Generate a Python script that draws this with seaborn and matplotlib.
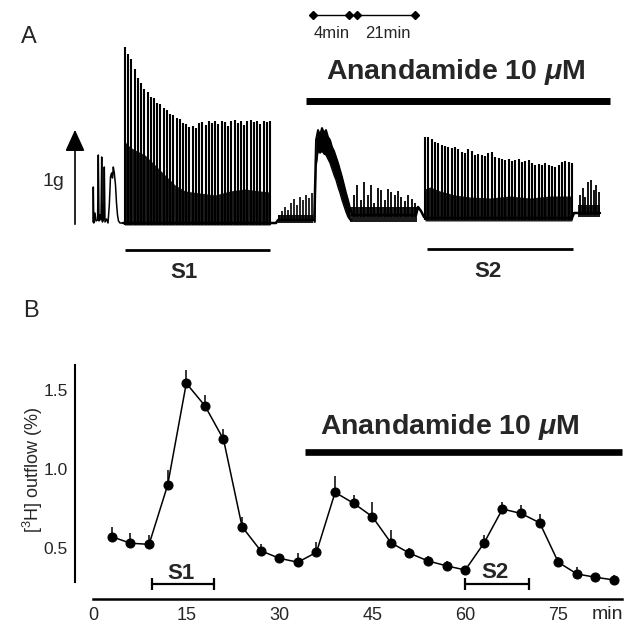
import numpy as np
import matplotlib
matplotlib.use("Agg")
import matplotlib.pyplot as plt
import seaborn as sns

sns.set_theme(style="white")
plt.rcParams["font.family"] = ["Liberation Sans", "DejaVu Sans"]
plt.rcParams["mathtext.fontset"] = "custom"
plt.rcParams["mathtext.rm"] = "Liberation Sans"
plt.rcParams["mathtext.it"] = "Liberation Sans:italic:bold"
plt.rcParams["mathtext.bf"] = "Liberation Sans:bold"

# ---------------- panel A : tension recording (chart position, grams) ----------------
pre_x = [93.0, 93.3, 93.8, 95.0, 96.0, 97.6, 98.3, 99.0, 100.0, 101.0, 101.7, 102.4, 103.6, 104.3, 105.0,
         106.5, 108.0, 109.3, 110.5, 111.5, 112.5, 113.3, 114.3, 115.5, 116.5, 117.5, 118.5, 120.0, 123.0]
pre_g = [0.03, 0.38, 0.02, 0.12, 0.04, 0.05, 0.70, 0.04, 0.10, 0.05, 0.68, 0.03, 0.06, 0.58, 0.03,
         0.06, 0.02, 0.20, 0.48, 0.52, 0.47, 0.58, 0.52, 0.40, 0.22, 0.10, 0.04, 0.02, 0.02]

s1_peaks = [1.78, 1.71, 1.66, 1.56, 1.47, 1.42, 1.36, 1.33, 1.28, 1.27, 1.22, 1.21, 1.17, 1.15, 1.11, 1.10,
            1.07, 1.06, 1.02, 1.01, 0.98, 0.99, 0.97, 1.02, 1.03, 1.00, 1.04, 1.02, 1.04, 1.01, 1.04, 1.03,
            0.99, 1.04, 1.05, 1.02, 1.04, 1.00, 1.04, 1.05, 1.03, 1.04, 1.01, 1.04, 1.03, 1.04]
s1_dense_x = [124.5, 126, 130, 135, 145, 155, 165, 175, 185, 200, 215, 230, 245, 260, 270]
s1_dense_g = [0.85, 0.82, 0.78, 0.75, 0.70, 0.60, 0.50, 0.40, 0.34, 0.32, 0.30, 0.34, 0.36, 0.34, 0.33]

pre2_peaks = [0.10, 0.14, 0.18, 0.15, 0.22, 0.26, 0.20, 0.28, 0.25, 0.30, 0.27, 0.32]

hump_x = [314, 315, 316, 318, 320, 322, 324, 326, 328, 330, 332, 334, 336, 338, 340, 342, 344, 346, 348, 350, 352]
hump_top = [0.05, 0.45, 0.85, 0.95, 0.90, 0.97, 0.92, 0.95, 0.88, 0.85, 0.78, 0.74, 0.68, 0.62, 0.55, 0.48,
            0.40, 0.32, 0.25, 0.17, 0.12]
hump_low = [0.03, 0.03, 0.58, 0.74, 0.72, 0.74, 0.71, 0.70, 0.66, 0.62, 0.56, 0.50, 0.45, 0.38, 0.32, 0.25,
            0.19, 0.13, 0.08, 0.05, 0.05]

post_peaks = [0.30, 0.40, 0.25, 0.43, 0.30, 0.40, 0.22, 0.37, 0.35, 0.25, 0.36, 0.33, 0.30, 0.34, 0.28,
              0.24, 0.30, 0.26, 0.22]

s2_peaks = [0.88, 0.88, 0.86, 0.83, 0.82, 0.80, 0.79, 0.78, 0.77, 0.78, 0.76, 0.73, 0.72, 0.76, 0.74, 0.70,
            0.71, 0.70, 0.69, 0.72, 0.73, 0.68, 0.67, 0.66, 0.65, 0.66, 0.64, 0.65, 0.66, 0.63, 0.64, 0.65,
            0.62, 0.60, 0.61, 0.60, 0.62, 0.60, 0.59, 0.58, 0.60, 0.63, 0.64, 0.63, 0.62]
s2_dense_x = [425, 430, 440, 455, 470, 490, 510, 530, 550, 572]
s2_dense_g = [0.36, 0.38, 0.34, 0.30, 0.28, 0.27, 0.29, 0.27, 0.29, 0.29]

end_peaks = [0.30, 0.37, 0.28, 0.43, 0.45, 0.35, 0.40, 0.33]

tone_x = [123, 276, 278, 314, np.nan, 352, 416, 418, 421, 424, 426, 572, 574, 600]
tone_g = [0.02, 0.02, 0.05, 0.05, np.nan, 0.10, 0.10, 0.18, 0.14, 0.08, 0.07, 0.07, 0.12, 0.12]

# ---------------- panel B : tritium outflow ----------------
times = [3, 6, 9, 12, 15, 18, 21, 24, 27, 30, 33, 36, 39, 42, 45, 48, 51, 54, 57, 60, 63, 66, 69, 72, 75, 78, 81, 84]
outflow = [0.573, 0.532, 0.525, 0.90, 1.542, 1.40, 1.188, 0.636, 0.485, 0.437, 0.412, 0.475, 0.853, 0.784,
           0.70, 0.535, 0.469, 0.42, 0.389, 0.363, 0.532, 0.748, 0.72, 0.661, 0.412, 0.338, 0.317, 0.30]
sem = [0.063, 0.063, 0.06, 0.095, 0.084, 0.067, 0.065, 0.063, 0.04, 0.03, 0.057, 0.067, 0.105, 0.053,
       0.095, 0.08, 0.036, 0.03, 0.03, 0.02, 0.053, 0.046, 0.053, 0.055, 0.036, 0.042, 0.025, 0.03]

s1_period = (9.5, 19.5)
s2_period = (60, 70.3)
drug_period = (34.1, 85.2)

fig = plt.figure(figsize=(6.4, 6.4), dpi=100)

# ---- panel A ----
ax_a = fig.add_axes([0, 0.53125, 1, 0.46875])
ax_a.set_xlim(0, 640)
ax_a.set_ylim(-0.75, 2.25)
ax_a.axis("off")
k = "black"
dark = "#1c1c1c"

ax_a.plot(pre_x, pre_g, color=k, lw=1.1)
ax_a.plot(tone_x, tone_g, color=k, lw=1.8)

s1_x = np.linspace(125, 270, len(s1_peaks))
ax_a.fill_between(s1_dense_x, 0.0, s1_dense_g, color=dark, lw=0)
ax_a.vlines(s1_x, 0.0, s1_peaks, color=k, lw=1.5)

pre2_x = np.linspace(279, 312, len(pre2_peaks))
ax_a.fill_between([278, 313], 0.02, 0.10, color=dark, lw=0)
ax_a.vlines(pre2_x, 0.05, pre2_peaks, color=k, lw=1.2)

ax_a.fill_between(hump_x, hump_low, hump_top, color=k, lw=0)
ax_a.plot(hump_x, hump_top, color=k, lw=1.4)
ax_a.plot(hump_x, hump_low, color=k, lw=1.0)

post_x = np.linspace(354, 415, len(post_peaks))
ax_a.fill_between([350, 417], 0.03, 0.18, color=dark, lw=0)
ax_a.vlines(post_x, 0.08, post_peaks, color=k, lw=1.3)

s2_x = np.linspace(425, 572, len(s2_peaks))
ax_a.fill_between(s2_dense_x, 0.04, s2_dense_g, color=dark, lw=0)
ax_a.vlines(s2_x, 0.05, s2_peaks, color=k, lw=1.5)

end_x = np.linspace(580, 599, len(end_peaks))
ax_a.fill_between([578, 600], 0.08, 0.20, color=dark, lw=0)
ax_a.vlines(end_x, 0.10, end_peaks, color=k, lw=1.3)

# calibration arrow and labels
ax_a.annotate("", xy=(75, 0.98), xytext=(75, -0.02),
              arrowprops=dict(arrowstyle="-|>,head_width=0.5,head_length=1.1", lw=1.2, color=k))
ax_a.text(53, 0.44, "1g", ha="center", va="center", fontsize=14)

# time scale bar
ax_a.plot([312.7, 349], [2.10, 2.10], color=k, lw=1.0, marker="D", markersize=4.5)
ax_a.plot([356.7, 415], [2.10, 2.10], color=k, lw=1.0, marker="D", markersize=4.5)
ax_a.text(331.7, 1.92, "4min", ha="center", va="center", fontsize=12)
ax_a.text(388.3, 1.92, "21min", ha="center", va="center", fontsize=12)

# drug bar
ax_a.plot([306, 610], [1.235, 1.235], color=k, lw=5, solid_capstyle="butt")
ax_a.text(456, 1.53, r"Anandamide 10 $\mu$M", ha="center", va="center", fontsize=20.5, fontweight="bold")

ax_a.plot([125, 270], [-0.25, -0.25], color=k, lw=2, solid_capstyle="butt")
ax_a.text(184, -0.48, "S1", ha="center", va="center", fontsize=16, fontweight="bold")
ax_a.plot([426.7, 572.7], [-0.243, -0.243], color=k, lw=2, solid_capstyle="butt")
ax_a.text(487.5, -0.467, "S2", ha="center", va="center", fontsize=16, fontweight="bold")

fig.text(29 / 640, 1 - 37 / 640, "A", ha="center", va="center", fontsize=17)
fig.text(31 / 640, 1 - 311 / 640, "B", ha="center", va="center", fontsize=17)

# ---- panel B ----
ax_b = fig.add_axes([0.1167, 0.0641, 0.8622, 0.3712])
ax_b.set_xlim(-3, 86)
ax_b.set_ylim(0.18, 1.68)

sns.lineplot(x=times, y=outflow, color=k, lw=1.1, marker="o", markersize=6.5,
             markeredgecolor=k, markerfacecolor=k, ax=ax_b, zorder=3)
ax_b.errorbar(times, outflow, yerr=[np.zeros(len(sem)), sem], fmt="none", ecolor=k,
              elinewidth=1.1, capsize=0, zorder=4)

for side in ["top", "right"]:
    ax_b.spines[side].set_visible(False)
ax_b.spines["left"].set_bounds(0.29, 1.66)
ax_b.spines["bottom"].set_bounds(0, 85.2)
ax_b.spines["left"].set_linewidth(1.5)
ax_b.spines["bottom"].set_linewidth(1.8)
ax_b.spines["left"].set_color(k)
ax_b.spines["bottom"].set_color(k)

ax_b.set_xticks([0, 15, 30, 45, 60, 75])
ax_b.set_xticks(np.arange(0, 85, 3), minor=True)
ax_b.set_yticks([0.5, 1.0, 1.5])
ax_b.set_yticklabels(["0.5", "1.0", "1.5"])
ax_b.tick_params(axis="x", which="both", direction="in", length=5, width=1.3, color=k,
                 labelsize=13, pad=6)
ax_b.tick_params(axis="y", direction="out", length=4, width=1.3, color=k, labelsize=12.5, pad=1)
ax_b.text(83, -0.066, "min", transform=ax_b.get_xaxis_transform(), ha="center", va="center", fontsize=14)

fig.text(33 / 640, 1 - 470 / 640, r"[$^3$H] outflow (%)", rotation=90, ha="center", va="center",
         fontsize=13)

ax_b.plot(drug_period, [1.11, 1.11], color=k, lw=4.8, solid_capstyle="butt")
ax_b.text(57.5, 1.268, r"Anandamide 10 $\mu$M", ha="center", va="center", fontsize=20.5, fontweight="bold")

for per, lab, ly in [(s1_period, "S1", 0.344), (s2_period, "S2", 0.35)]:
    ax_b.plot(per, [0.272, 0.272], color=k, lw=1.6, marker="|", markersize=9, markeredgewidth=1.6)
    ax_b.text(sum(per) / 2 - 0.4, ly, lab, ha="center", va="center", fontsize=16, fontweight="bold")

fig.savefig("out.png", dpi=100)
